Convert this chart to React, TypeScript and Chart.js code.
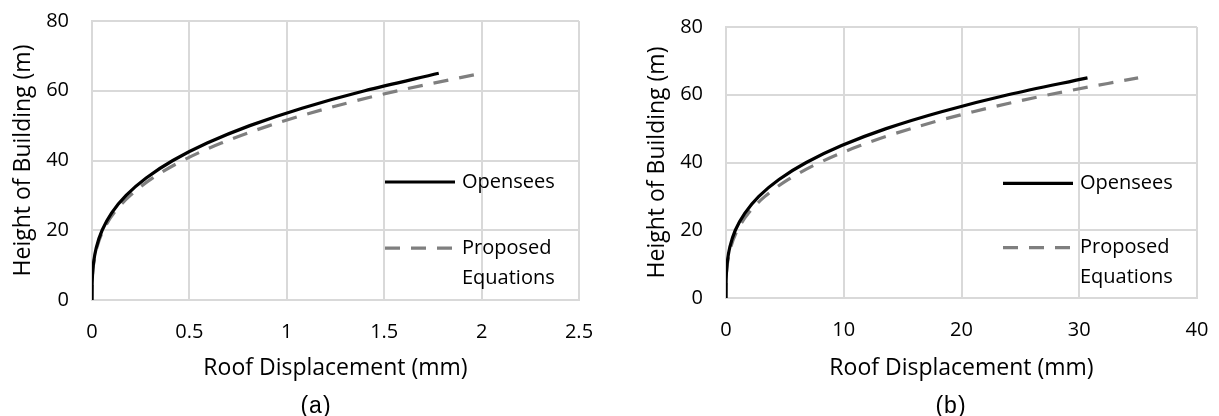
import React, { useEffect, useRef } from "react";
import { Chart, registerables } from "chart.js";

Chart.register(...registerables);

// ---------- data ----------
const heights = [0, 5, 10, 15, 20, 25, 30, 35, 40, 45, 50, 55, 60, 65];

const openseesA = [0, 0.001, 0.0065, 0.022, 0.052, 0.101, 0.175, 0.278, 0.415, 0.591, 0.81, 1.078, 1.4, 1.78];
const proposedA = [0, 0.001, 0.0075, 0.025, 0.058, 0.113, 0.197, 0.312, 0.466, 0.664, 0.91, 1.21, 1.57, 2.0];

const openseesB = [0, 0.011, 0.093, 0.326, 0.79, 1.59, 2.79, 4.5, 6.82, 9.82, 13.6, 18.3, 23.95, 30.7];
const proposedB = [0, 0.014, 0.116, 0.4, 0.96, 1.9, 3.31, 5.3, 7.96, 11.4, 15.7, 21.0, 27.4, 35];

const seriesNames = ["Opensees", "Proposed Equations"];
const xAxisTitle = "Roof Displacement (mm)";
const yAxisTitle = "Height of Building (m)";

const xRangeA = [0, 2.5, 0.5];
const xRangeB = [0, 40, 10];
const yRange = [0, 80, 20];

const panelLabels = ["(a)", "(b)"];

// ---------- styles ----------
const FONT = "'Open Sans', 'Noto Sans', sans-serif";
const GRID = "#d9d9d9";

const legendPlugin = {
  id: "inlineLegend",
  afterDatasetsDraw(chart: any) {
    const { ctx, chartArea: a } = chart;
    const h = a.bottom - a.top;
    const rowFrac = [0.423, 0.186];
    const lineStart = a.right - 194;
    const lineEnd = a.right - 124;
    const textX = lineEnd + 7;
    const maxTextW = chart.width - textX - 4;
    ctx.save();
    ctx.font = `20px ${FONT}`;
    chart.data.datasets.forEach((ds: any, i: number) => {
      const y = a.bottom - rowFrac[i] * h;
      ctx.save();
      ctx.strokeStyle = ds.borderColor;
      ctx.lineWidth = ds.borderWidth;
      ctx.setLineDash(ds.borderDash || []);
      ctx.lineCap = "butt";
      ctx.beginPath();
      ctx.moveTo(lineStart, y);
      ctx.lineTo(lineEnd, y);
      ctx.stroke();
      ctx.restore();
      const words = String(ds.label).split(" ");
      const lines: string[] = [];
      let cur = "";
      words.forEach((w) => {
        const test = cur ? cur + " " + w : w;
        if (ctx.measureText(test).width > maxTextW && cur) {
          lines.push(cur);
          cur = w;
        } else cur = test;
      });
      if (cur) lines.push(cur);
      ctx.fillStyle = "#000";
      ctx.textAlign = "left";
      ctx.textBaseline = "middle";
      lines.forEach((ln, k) => ctx.fillText(ln, textX, y + k * 30));
    });
    ctx.restore();
  },
};

const clearPadding = (s: any) => {
  s.paddingTop = 0;
  s.paddingBottom = 0;
  s.paddingLeft = 0;
  s.paddingRight = 0;
};

type PanelProps = {
  width: number;
  xs1: number[];
  xs2: number[];
  xRange: number[];
  pad: { left: number; top: number; right: number; bottom: number };
  yWidth: number;
  xHeight: number;
};

function Panel({ width, xs1, xs2, xRange, pad, yWidth, xHeight }: PanelProps) {
  const ref = useRef<HTMLCanvasElement>(null);
  useEffect(() => {
    if (!ref.current) return;
    const chart = new Chart(ref.current, {
      type: "line",
      data: {
        datasets: [
          {
            label: seriesNames[0],
            data: heights.map((h, i) => ({ x: xs1[i], y: h })),
            borderColor: "#000000",
            borderWidth: 3.2,
            pointRadius: 0,
            fill: false,
            cubicInterpolationMode: "monotone",
          },
          {
            label: seriesNames[1],
            data: heights.map((h, i) => ({ x: xs2[i], y: h })),
            borderColor: "#7f7f7f",
            borderWidth: 3.2,
            borderDash: [15, 11],
            pointRadius: 0,
            fill: false,
            cubicInterpolationMode: "monotone",
          },
        ],
      },
      options: {
        animation: false,
        responsive: false,
        devicePixelRatio: 1,
        indexAxis: "y",
        layout: { padding: pad, autoPadding: false },
        plugins: {
          legend: { display: false },
          tooltip: { enabled: false },
          title: { display: false },
        },
        scales: {
          x: {
            type: "linear",
            position: "bottom",
            min: xRange[0],
            max: xRange[1],
            ticks: {
              stepSize: xRange[2],
              color: "#000",
              font: { family: FONT, size: 20 },
              padding: 20,
              maxRotation: 0,
              callback: (v: any) => String(Math.round(Number(v) * 100) / 100),
            },
            grid: { color: GRID, lineWidth: 2, drawTicks: false },
            border: { display: true, color: GRID, width: 2 },
            title: {
              display: true,
              text: xAxisTitle,
              color: "#000",
              font: { family: FONT, size: 23, lineHeight: 1.2 },
              padding: { top: 0, bottom: 0 },
            },
            afterFit: (s: any) => {
              s.height = xHeight;
              clearPadding(s);
            },
          },
          y: {
            type: "linear",
            position: "left",
            min: yRange[0],
            max: yRange[1],
            ticks: {
              stepSize: yRange[2],
              color: "#000",
              font: { family: FONT, size: 20 },
              padding: 23,
            },
            grid: { color: GRID, lineWidth: 2, drawTicks: false },
            border: { display: true, color: GRID, width: 2 },
            title: {
              display: true,
              text: yAxisTitle,
              color: "#000",
              font: { family: FONT, size: 23, lineHeight: 1.2 },
              padding: { top: 0, bottom: 0 },
            },
            afterFit: (s: any) => {
              s.width = yWidth;
              clearPadding(s);
            },
          },
        },
      } as any,
      plugins: [legendPlugin],
    });
    return () => chart.destroy();
  }, []);
  return <canvas ref={ref} width={width} height={416} style={{ display: "block" }} />;
}

export default function App() {
  const labelStyle = (cx: number): React.CSSProperties => ({
    position: "absolute",
    left: cx - 50,
    width: 100,
    top: 393,
    lineHeight: "24px",
    textAlign: "center",
    fontFamily: "'Liberation Sans', Arial, sans-serif",
    fontSize: 23,
    color: "#000",
    letterSpacing: 1,
  });
  return (
    <div style={{ position: "fixed", left: 0, top: 0, width: 1219, height: 416, background: "#fff", overflow: "hidden" }}>
      <div style={{ position: "absolute", left: 0, top: 0 }}>
        <Panel
          width={600}
          xs1={openseesA}
          xs2={proposedA}
          xRange={xRangeA}
          pad={{ left: 9.2, top: 21, right: 21, bottom: 34.2 }}
          yWidth={82.8}
          xHeight={81.8}
        />
      </div>
      <div style={{ position: "absolute", left: 600, top: 0 }}>
        <Panel
          width={619}
          xs1={openseesB}
          xs2={proposedB}
          xRange={xRangeB}
          pad={{ left: 43.2, top: 27, right: 22, bottom: 34.2 }}
          yWidth={82.8}
          xHeight={83.8}
        />
      </div>
      <div style={labelStyle(316)}>{panelLabels[0]}</div>
      <div style={labelStyle(951)}>{panelLabels[1]}</div>
    </div>
  );
}
